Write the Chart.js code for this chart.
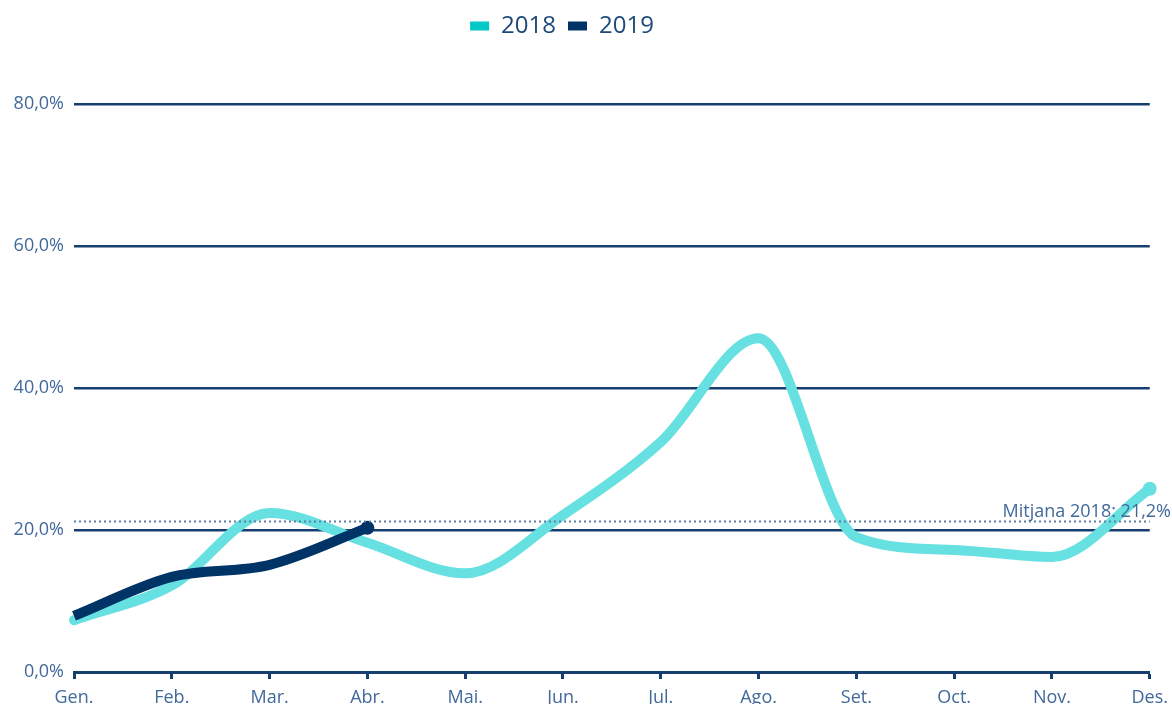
<!DOCTYPE html>
<html>
<head>
<meta charset="utf-8">
<script src="https://cdn.jsdelivr.net/npm/chart.js@4.4.1/dist/chart.umd.min.js"></script>
<style>
  html, body { margin: 0; padding: 0; background: #fff; overflow: hidden; }
  #wrap { position: relative; width: 1172px; height: 704px; }
</style>
</head>
<body>
<div id="wrap"><canvas id="chart"></canvas></div>
<script>
// values
var months = ['Gen.', 'Feb.', 'Mar.', 'Abr.', 'Mai.', 'Jun.', 'Jul.', 'Ago.', 'Set.', 'Oct.', 'Nov.', 'Des.'];
var data2018 = [7.3, 12.2, 22.4, 18.2, 13.9, 22.1, 32.4, 47.0, 19.0, 17.2, 16.2, 25.8];
var data2019 = [7.9, 13.4, 15.1, 20.3, null, null, null, null, null, null, null, null];
var mitjana2018 = 21.2;
var mitjanaLabel = 'Mitjana 2018: 21,2%';

const navy = '#003366';
const turq = '#66e0e0';
const textBlue = '#41699a';
const gridBlue = '#163f70';

// draw the dotted average line and its label
const mitjanaPlugin = {
  id: 'mitjana',
  afterDatasetsDraw(chart) {
    const ctx = chart.ctx;
    const area = chart.chartArea;
    const y = chart.scales.y.getPixelForValue(mitjana2018);
    ctx.save();
    ctx.strokeStyle = '#5f7fa6';
    ctx.lineWidth = 2;
    ctx.setLineDash([2, 3]);
    ctx.beginPath();
    ctx.moveTo(area.left, y);
    ctx.lineTo(area.right, y);
    ctx.stroke();
    ctx.setLineDash([]);
    ctx.fillStyle = textBlue;
    ctx.font = '18px "Open Sans"';
    ctx.textAlign = 'right';
    ctx.textBaseline = 'bottom';
    ctx.fillText(mitjanaLabel, chart.width - 1, y - 1);
    ctx.restore();
  }
};

function lastPointOnly(arr) {
  let last = -1;
  arr.forEach((v, i) => { if (v !== null) last = i; });
  return arr.map((v, i) => i === last ? 7 : 0);
}

new Chart(document.getElementById('chart'), {
  type: 'line',
  data: {
    labels: months,
    datasets: [
      {
        label: '2018',
        data: data2018,
        borderColor: turq,
        backgroundColor: '#00c8c8',
        pointBackgroundColor: turq,
        pointBorderWidth: 0,
        borderWidth: 10,
        borderCapStyle: 'round',
        cubicInterpolationMode: 'monotone',
        pointRadius: lastPointOnly(data2018),
        order: 2
      },
      {
        label: '2019',
        data: data2019,
        borderColor: navy,
        backgroundColor: navy,
        pointBackgroundColor: navy,
        pointBorderWidth: 0,
        borderWidth: 10,
        borderCapStyle: 'butt',
        cubicInterpolationMode: 'monotone',
        pointRadius: lastPointOnly(data2019),
        order: 1
      }
    ]
  },
  options: {
    responsive: true,
    maintainAspectRatio: false,
    animation: false,
    layout: { padding: { top: 2, right: 22, left: 0, bottom: 0 } },
    plugins: {
      tooltip: { enabled: false },
      legend: {
        position: 'top',
        labels: {
          boxWidth: 19,
          boxHeight: 9,
          padding: 12,
          color: '#1d4a7a',
          font: { family: '"Open Sans"', size: 24 },
          sort: (a, b) => a.datasetIndex - b.datasetIndex,
          generateLabels(chart) {
            const items = Chart.defaults.plugins.legend.labels.generateLabels(chart);
            items.forEach(it => {
              it.lineWidth = 0;
              it.fillStyle = chart.data.datasets[it.datasetIndex].backgroundColor;
            });
            return items;
          }
        }
      }
    },
    scales: {
      x: {
        offset: false,
        afterFit(scale) { scale.height = 32; },
        grid: {
          display: true,
          drawOnChartArea: false,
          drawTicks: true,
          tickLength: 7,
          tickWidth: 3,
          tickColor: gridBlue
        },
        border: { display: true, color: gridBlue, width: 3 },
        ticks: {
          color: textBlue,
          padding: 4,
          maxRotation: 0,
          autoSkip: false,
          font: { family: '"Open Sans"', size: 18, lineHeight: 1.7 }
        }
      },
      y: {
        min: 0,
        max: 80,
        afterFit(scale) { scale.width = 74; },
        grid: {
          drawTicks: false,
          color: gridBlue,
          lineWidth: 2.5
        },
        border: { display: false },
        ticks: {
          stepSize: 20,
          padding: 10,
          color: textBlue,
          font: { family: '"Open Sans"', size: 18 },
          callback: v => v.toFixed(1).replace('.', ',') + '%'
        }
      }
    }
  },
  plugins: [mitjanaPlugin, {
    id: 'legendGap',
    beforeInit(chart) {
      const fit = chart.legend.fit;
      chart.legend.fit = function () {
        fit.bind(chart.legend)();
        this.height += 56;
      };
    },
    beforeDraw(chart) {
      // legend sits a little left of centre in the reference
      if (!chart.legend._shifted) {
        chart.legend.left -= 13;
        chart.legend.right -= 13;
        chart.legend._shifted = true;
      }
    }
  }]
});
</script>
</body>
</html>
